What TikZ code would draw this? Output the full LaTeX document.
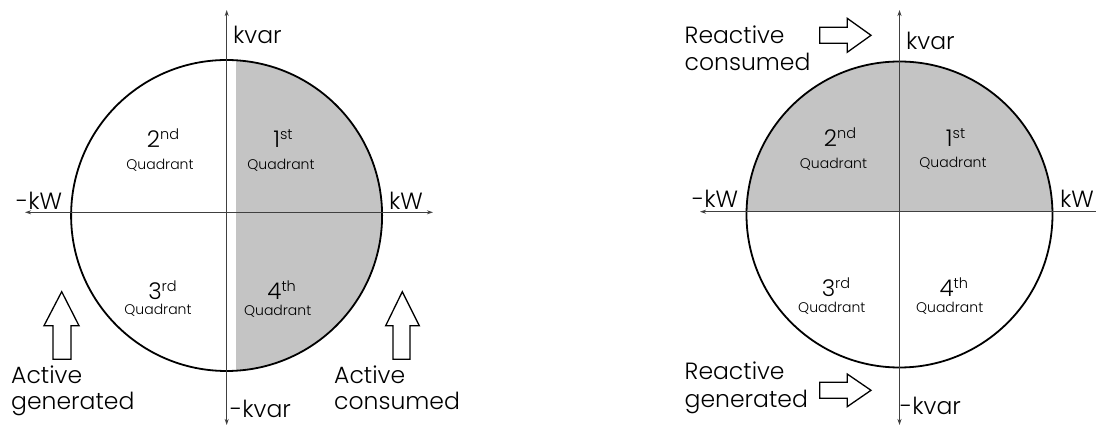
\documentclass[tikz,border=0pt]{standalone}
\usepackage{fontspec}
\setmainfont{Poppins}[UprightFont=* Light]
\usetikzlibrary{arrows.meta}

% ordinal label: big numeral with a raised suffix
\newcommand{\ordlabel}[2]{#1\raisebox{8pt}{\fontsize{14.5}{14.5}\selectfont #2}}

\begin{document}
\begin{tikzpicture}[x=1pt,y=-1pt,
  rim/.style={draw=black,line width=1.8pt},
  quadfill/.style={fill=black!23},
  axisline/.style={draw=black!75,line width=1.1pt,
    {Stealth[length=6pt,width=4pt]}-{Stealth[length=6pt,width=4pt]}},
  blockarrow/.style={draw=black,line width=1.3pt,fill=white,line join=miter},
  biglabel/.style={inner sep=0pt,font=\fontsize{23.5}{23.5}\selectfont},
  quadnum/.style={inner sep=0pt,anchor=base,font=\fontsize{23}{23}\selectfont},
  quadword/.style={inner sep=0pt,anchor=base,font=\fontsize{14}{14}\selectfont},
]
\useasboundingbox (0,0) rectangle (1096,427);

%% ---------- left chart: active power ----------
\coordinate (LC) at (226.6,215.5);
\begin{scope}
  \clip (236,0) rectangle (420,427);
  \path[quadfill] (LC) circle (155.5);
\end{scope}
\draw[rim] (LC) circle (155.5);

\coordinate (LW) at (25,212.3);
\coordinate (LE) at (433,212.3);
\coordinate (LN) at (226.7,10);
\coordinate (LS) at (226.7,425);
\draw[axisline] (LW) -- (LE);
\draw[axisline] (LS) -- (LN);

\node[biglabel,anchor=base west] (lkvar)  at (233,44)  {kvar};
\node[biglabel,anchor=base west] (lnkvar) at (230,418) {-kvar};
\node[biglabel,anchor=base west] (lnkw)   at (16,210)  {-kW};
\node[biglabel,anchor=base west] (lkw)    at (389,210) {kW};

\node[quadnum]  (lq2) at (163,148) {\ordlabel{2}{nd}};
\node[quadword] (lq2w) at (160,170) {Quadrant};
\node[quadnum]  (lq1) at (283,148) {\ordlabel{1}{st}};
\node[quadword] (lq1w) at (281,170) {Quadrant};
\node[quadnum]  (lq3) at (162.5,300) {\ordlabel{3}{rd}};
\node[quadword] (lq3w) at (158,315) {Quadrant};
\node[quadnum]  (lq4) at (281.7,300) {\ordlabel{4}{th}};
\node[quadword] (lq4w) at (277.7,316) {Quadrant};

% up arrows: active generated / consumed
\draw[blockarrow] (53,359.3) -- (53,325.7) -- (44,325.7) -- (61.7,291.7)
  -- (79,325.7) -- (71,325.7) -- (71,359.3) -- cycle;
\draw[blockarrow] (393,359.3) -- (393,325.7) -- (385.7,325.7) -- (402.3,291.7)
  -- (419.3,325.7) -- (410,325.7) -- (410,359.3) -- cycle;

\node[biglabel,anchor=base west] (agen1) at (11,384)  {Active};
\node[biglabel,anchor=base west] (agen2) at (11,410)  {generated};
\node[biglabel,anchor=base west] (acon1) at (334,384) {Active};
\node[biglabel,anchor=base west] (acon2) at (334,410) {consumed};

%% ---------- right chart: reactive power ----------
\coordinate (RC) at (899.5,214.5);
\begin{scope}
  \clip (700,0) rectangle (1096,211.7);
  \path[quadfill] (RC) circle (153);
\end{scope}
\draw[rim] (RC) circle (153);

\coordinate (RW) at (700,211.7);
\coordinate (RE) at (1110,211.7);
\coordinate (RN) at (899.5,10);
\coordinate (RS) at (899.5,425);
\draw[axisline] (RW) -- (RE);
\draw[axisline] (RS) -- (RN);

\node[biglabel,anchor=base west] (rkvar)  at (906,50)   {kvar};
\node[biglabel,anchor=base west] (rnkvar) at (900,415)  {-kvar};
\node[biglabel,anchor=base west] (rnkw)   at (692,208)  {-kW};
\node[biglabel,anchor=base west] (rkw)    at (1060,208) {kW};

\node[quadnum]  (rq2) at (840,147) {\ordlabel{2}{nd}};
\node[quadword] (rq2w) at (833.5,169) {Quadrant};
\node[quadnum]  (rq1) at (955.6,147) {\ordlabel{1}{st}};
\node[quadword] (rq1w) at (953,168) {Quadrant};
\node[quadnum]  (rq3) at (836,296.7) {\ordlabel{3}{rd}};
\node[quadword] (rq3w) at (831.8,313) {Quadrant};
\node[quadnum]  (rq4) at (953.8,296.7) {\ordlabel{4}{th}};
\node[quadword] (rq4w) at (949.7,313) {Quadrant};

% right arrows: reactive consumed / generated
\draw[blockarrow] (819.8,27.3) -- (847.2,27.3) -- (847.2,18.3) -- (871,35.3)
  -- (847.2,52.3) -- (847.2,43.3) -- (819.8,43.3) -- cycle;
\draw[blockarrow] (819.8,382.3) -- (847.2,382.3) -- (847.2,374) -- (871,390.3)
  -- (847.2,406.7) -- (847.2,398.3) -- (819.8,398.3) -- cycle;

\node[biglabel,anchor=base west] (rcon1) at (684.5,43.3) {Reactive};
\node[biglabel,anchor=base west] (rcon2) at (684.5,70.7) {consumed};
\node[biglabel,anchor=base west] (rgen1) at (684.5,380)  {Reactive};
\node[biglabel,anchor=base west] (rgen2) at (684.5,408)  {generated};
\end{tikzpicture}
\end{document}
